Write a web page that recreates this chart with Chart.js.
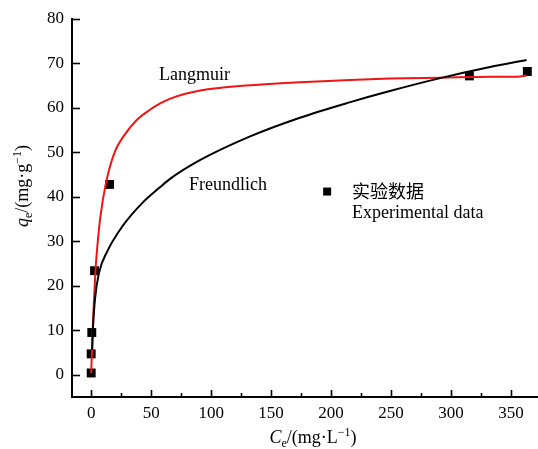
<!DOCTYPE html>
<html>
<head>
<meta charset="utf-8">
<script src="https://cdn.jsdelivr.net/npm/chart.js@4.4.0/dist/chart.umd.min.js"></script>
<style>
  html, body { margin: 0; padding: 0; background: #fff; }
  #wrap { position: relative; width: 538px; height: 449px; }
</style>
</head>
<body>
<div id="wrap"><canvas id="c" width="538" height="449"></canvas></div>
<script>
// Experimental data
const ceExp = [0, 0, 0.5, 2.8, 15.3, 315.3, 363.6];
const qeExp = [0.4, 4.7, 9.5, 23.4, 42.8, 67.2, 68.2];
// Langmuir fitted curve
const langC = [0, 1.7, 3.6, 5.0, 7.7, 12.3, 19.5, 26.9, 38, 49, 57.5, 66, 91, 132.5, 174, 216, 249, 291, 332.5, 355, 363];
const langQ = [0.4, 13.1, 23.6, 28.5, 35.6, 43.1, 50, 53.6, 57.3, 59.6, 61, 62.1, 63.9, 65.1, 65.8, 66.3, 66.6, 66.8, 67, 67, 67.3];
// Freundlich fitted curve
const freC = [0.8, 1.4, 3.1, 6.4, 13.3, 25.8, 42.5, 57.5, 66, 91, 132.5, 174, 216, 249, 291, 332.5, 363];
const freQ = [5.6, 10.1, 16.9, 22.8, 27.7, 33.3, 38.6, 42.2, 44.1, 48.3, 53.6, 57.8, 61.3, 63.8, 66.7, 69.2, 70.8];
// Tick values
const xTicks = [0, 50, 100, 150, 200, 250, 300, 350];
const yTicks = [0, 10, 20, 30, 40, 50, 60, 70, 80];

const SERIF = "'Liberation Serif', 'Times New Roman', serif";
const CJK = "'Liberation Serif', 'Noto Sans CJK SC', serif";

const pts = (xs, ys) => xs.map((x, i) => ({x: x, y: ys[i]}));

function drawRuns(ctx, runs, cx, cy) {
  let total = 0;
  runs.forEach(r => { ctx.font = (r.style || '') + ' ' + r.size + 'px ' + SERIF; r.w = ctx.measureText(r.t).width; total += r.w; });
  let x = cx - total / 2;
  ctx.textBaseline = 'alphabetic';
  ctx.textAlign = 'left';
  runs.forEach(r => {
    ctx.font = (r.style || '') + ' ' + r.size + 'px ' + SERIF;
    ctx.fillText(r.t, x, cy + (r.dy || 0));
    x += r.w;
  });
}

const decor = {
  id: 'decor',
  afterDraw(chart) {
    const ctx = chart.ctx;
    const xs = chart.scales.x, ys = chart.scales.y;
    const ca = chart.chartArea;
    ctx.save();
    ctx.strokeStyle = '#000';
    ctx.lineWidth = 1.6;
    xTicks.forEach(v => {
      const px = Math.round(xs.getPixelForValue(v)) + 0.5;
      ctx.beginPath(); ctx.moveTo(px, ca.bottom); ctx.lineTo(px, ca.bottom - 7); ctx.stroke();
      const m = v + 25;
      if (m < xs.max) {
        const pm = Math.round(xs.getPixelForValue(m)) + 0.5;
        ctx.beginPath(); ctx.moveTo(pm, ca.bottom); ctx.lineTo(pm, ca.bottom - 4); ctx.stroke();
      }
    });
    yTicks.forEach(v => {
      const py = Math.round(ys.getPixelForValue(v)) + 0.5;
      ctx.beginPath(); ctx.moveTo(ca.left, py); ctx.lineTo(ca.left + 8, py); ctx.stroke();
    });
    ctx.fillStyle = '#000';
    ctx.font = '18px ' + SERIF;
    ctx.textAlign = 'left';
    ctx.textBaseline = 'middle';
    ctx.fillText('Langmuir', xs.getPixelForValue(56.5), ys.getPixelForValue(67.4));
    ctx.fillText('Freundlich', xs.getPixelForValue(81.5), ys.getPixelForValue(42.5));
    const mx = xs.getPixelForValue(196.7), my = ys.getPixelForValue(41.2);
    ctx.fillRect(mx - 4, my - 4, 8, 8);
    ctx.font = '18px ' + CJK;
    ctx.fillText('实验数据', xs.getPixelForValue(217.5), ys.getPixelForValue(40.9));
    ctx.font = '18px ' + SERIF;
    ctx.fillText('Experimental data', xs.getPixelForValue(217.5), ys.getPixelForValue(36.4));
    drawRuns(ctx, [
      {t: 'C', style: 'italic', size: 18},
      {t: 'e', size: 12, dy: 4},
      {t: '/(mg\u00B7L', size: 18},
      {t: '\u22121', size: 12, dy: -7},
      {t: ')', size: 18}
    ], 313, 443);
    ctx.save();
    ctx.translate(28, 186);
    ctx.rotate(-Math.PI / 2);
    drawRuns(ctx, [
      {t: 'q', style: 'italic', size: 18},
      {t: 'e', size: 12, dy: 4},
      {t: '/(mg\u00B7g', size: 18},
      {t: '\u22121', size: 12, dy: -7},
      {t: ')', size: 18}
    ], 0, 0);
    ctx.restore();
    ctx.restore();
  }
};

new Chart(document.getElementById('c'), {
  type: 'scatter',
  data: {
    datasets: [
      {
        label: '实验数据',
        data: pts(ceExp, qeExp),
        pointStyle: 'rect',
        pointRadius: 6.3,
        backgroundColor: '#000',
        borderColor: '#000',
        borderWidth: 0,
        showLine: false,
        order: 3
      },
      {
        label: 'Langmuir',
        data: pts(langC, langQ),
        showLine: true,
        borderColor: '#f01414',
        borderWidth: 2,
        pointRadius: 0,
        cubicInterpolationMode: 'monotone',
        fill: false,
        order: 2
      },
      {
        label: 'Freundlich',
        data: pts(freC, freQ),
        showLine: true,
        borderColor: '#000',
        borderWidth: 2,
        pointRadius: 0,
        cubicInterpolationMode: 'monotone',
        fill: false,
        order: 1
      }
    ]
  },
  options: {
    responsive: false,
    animation: false,
    layout: { autoPadding: false, padding: { top: 19, right: 0, left: 0, bottom: 0 } },
    plugins: { legend: { display: false }, tooltip: { enabled: false } },
    scales: {
      x: {
        type: 'linear',
        min: -16,
        max: 372.5,
        grid: { display: false, drawTicks: false },
        border: { display: true, color: '#000', width: 2 },
        afterBuildTicks: s => { s.ticks = xTicks.map(v => ({value: v})); },
        afterFit: s => { s.height = 52; },
        ticks: { color: '#000', padding: 6, maxRotation: 0, autoSkip: false, font: { family: SERIF, size: 17 } }
      },
      y: {
        type: 'linear',
        min: -5,
        max: 80,
        grid: { display: false, drawTicks: false },
        border: { display: true, color: '#000', width: 2 },
        afterBuildTicks: s => { s.ticks = yTicks.map(v => ({value: v})); },
        afterFit: s => { s.width = 72; },
        ticks: { color: '#000', padding: 8, autoSkip: false, font: { family: SERIF, size: 17 } }
      }
    }
  },
  plugins: [decor]
});
</script>
</body>
</html>
